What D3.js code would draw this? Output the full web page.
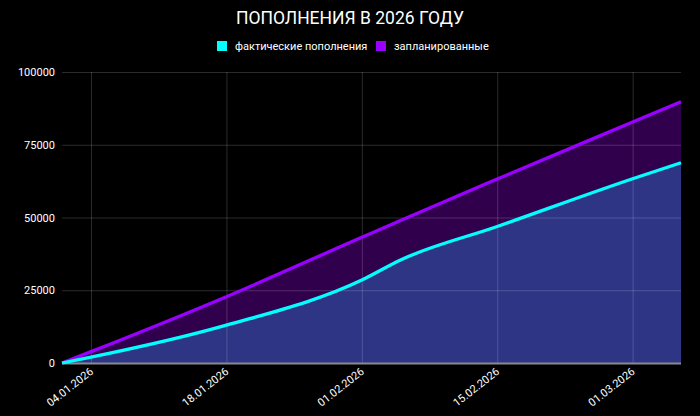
<!DOCTYPE html>
<html><head><meta charset="utf-8">
<script src="https://cdn.jsdelivr.net/npm/d3@7"></script>
<style>
html,body{margin:0;padding:0;background:#000;}
svg{display:block;font-family:Roboto,"Noto Sans",sans-serif;}
</style></head>
<body><svg id="c" width="700" height="416"></svg>
<script>
const title = "ПОПОЛНЕНИЯ В 2026 ГОДУ";
const seriesNames = ["фактические пополнения", "запланированные"];
const dates = ["01.01.2026","04.01.2026","18.01.2026","01.02.2026","05.02.2026","15.02.2026","01.03.2026","06.03.2026"];
const actual = [0, 2000, 13000, 28500, 35400, 46900, 63300, 68800];
const planned = [0, 3900, 22800, 43200, 49000, 63200, 82800, 89800];
const xTickLabels = ["04.01.2026","18.01.2026","01.02.2026","15.02.2026","01.03.2026"];
const yTicks = [0, 25000, 50000, 75000, 100000];

const parse = d3.timeParse("%d.%m.%Y");
const svg = d3.select("#c");
const L = 62, R = 681, T = 72, B = 363;
const x = d3.scaleTime().domain([parse(dates[0]), parse(dates[dates.length-1])]).range([L, R]);
const y = d3.scaleLinear().domain([0, 100000]).range([B, T]);

const rows = dates.map((d,i)=>({d:parse(d), a:actual[i], p:planned[i]}));
const curve = d3.curveMonotoneX;

// title
svg.append("text").attr("x", 350).attr("y", 24).attr("text-anchor","middle")
  .attr("fill","#fff").style("font-size","17.5px").text(title);

// legend
const legend = [{n:seriesNames[0], c:"#00ffff", x:217},{n:seriesNames[1], c:"#9900ff", x:376}];
legend.forEach(l=>{
  svg.append("rect").attr("x", l.x).attr("y", 41).attr("width",10).attr("height",10).attr("fill", l.c);
  svg.append("text").attr("x", l.x+18).attr("y", 50).attr("fill","#fff").style("font-size","11px").text(l.n);
});

// fills
svg.append("path").datum(rows).attr("fill","#31004c")
  .attr("d", d3.area().x(d=>x(d.d)).y0(B).y1(d=>y(d.p)).curve(curve));
svg.append("path").datum(rows).attr("fill","#2e3585")
  .attr("d", d3.area().x(d=>x(d.d)).y0(B).y1(d=>y(d.a)).curve(curve));

// grid
const gx = svg.append("g").attr("transform",`translate(0,${B})`)
  .call(d3.axisBottom(x).tickValues(xTickLabels.map(parse)).tickSize(-(B-T)).tickFormat(""));
gx.select(".domain").remove();
gx.selectAll("line").attr("stroke","rgba(255,255,255,0.17)");
const gy = svg.append("g").attr("transform",`translate(${L},0)`)
  .call(d3.axisLeft(y).tickValues(yTicks.slice(1)).tickSize(-(R-L)).tickFormat(""));
gy.select(".domain").remove();
gy.selectAll("line").attr("stroke","rgba(255,255,255,0.17)");

// y labels
svg.append("g").selectAll("text").data(yTicks).join("text")
  .attr("x", 55).attr("y", d=>y(d)+4).attr("text-anchor","end")
  .attr("fill","#fff").style("font-size","11px").text(d=>d);

// base axis line
svg.append("line").attr("x1",L).attr("x2",R).attr("y1",B+0.5).attr("y2",B+0.5)
  .attr("stroke","#8a8a8a").attr("stroke-width",2);

// lines
svg.append("path").datum(rows).attr("fill","none").attr("stroke","#9900ff").attr("stroke-width",3.3)
  .attr("d", d3.line().x(d=>x(d.d)).y(d=>y(d.p)).curve(curve));
svg.append("path").datum(rows).attr("fill","none").attr("stroke","#00ffff").attr("stroke-width",3.3)
  .attr("d", d3.line().x(d=>x(d.d)).y(d=>y(d.a)).curve(curve));

// x labels
svg.append("g").selectAll("text").data(xTickLabels).join("text")
  .attr("transform", d=>`translate(${x(parse(d))+3},${B+10}) rotate(-38)`)
  .attr("text-anchor","end").attr("fill","#fff").style("font-size","11px").text(d=>d);
</script></body></html>
